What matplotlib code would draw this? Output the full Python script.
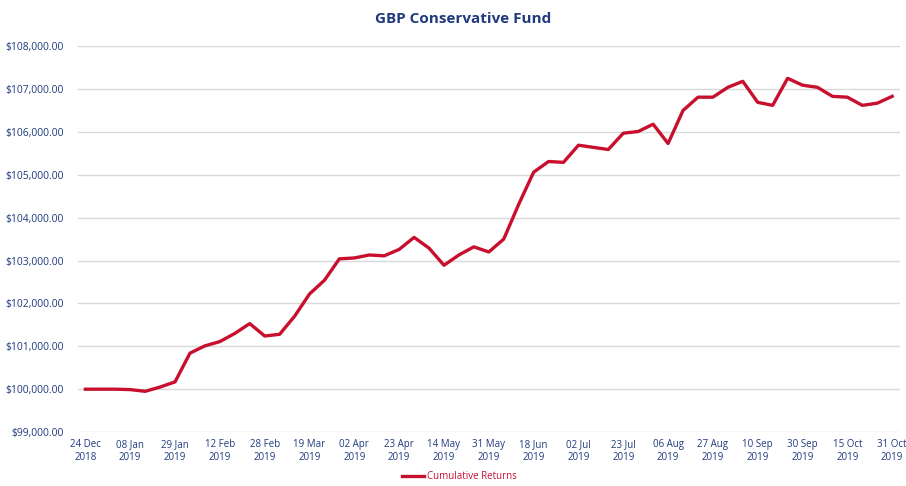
import matplotlib.pyplot as plt
import numpy as np

plt.rcParams['font.family'] = ['Open Sans', 'DejaVu Sans']

# fund value, one point per period
values = [100000, 100000, 100000, 99990, 99950, 100050, 100170, 100840, 101010, 101110,
          101300, 101530, 101240, 101280, 101700, 102220, 102540, 103040, 103060, 103130,
          103110, 103260, 103540, 103290, 102890, 103130, 103320, 103200, 103500, 104310,
          105060, 105310, 105290, 105690, 105640, 105590, 105970, 106010, 106180, 105730,
          106500, 106810, 106810, 107040, 107180, 106690, 106620, 107250, 107090, 107040,
          106830, 106810, 106620, 106670, 106830]

# labels shown on every third point
tick_labels = ['24 Dec\n2018', '08 Jan\n2019', '29 Jan\n2019', '12 Feb\n2019', '28 Feb\n2019',
               '19 Mar\n2019', '02 Apr\n2019', '23 Apr\n2019', '14 May\n2019', '31 May\n2019',
               '18 Jun\n2019', '02 Jul\n2019', '23 Jul\n2019', '06 Aug\n2019', '27 Aug\n2019',
               '10 Sep\n2019', '30 Sep\n2019', '15 Oct\n2019', '31 Oct\n2019']

navy = '#1F3A7E'
red = '#C8102E'

fig = plt.figure(figsize=(9.06, 4.86), dpi=100)
ax = fig.add_axes([0.086, 0.111, 0.907, 0.794])

x = np.arange(len(values))
ax.plot(x, values, color=red, linewidth=2.4, label='Cumulative Returns', solid_joinstyle='round')

ax.set_xlim(-0.5, len(values) - 0.5)
ax.set_ylim(99000, 108000)
ax.set_yticks(np.arange(99000, 108001, 1000))
ax.set_yticklabels(['${:,.2f}'.format(v) for v in np.arange(99000, 108001, 1000)])
ax.set_xticks(x[::3])
ax.set_xticklabels(tick_labels)

ax.grid(axis='y', color='#D9D9D9', linewidth=1)
ax.set_axisbelow(True)
for s in ax.spines.values():
    s.set_visible(False)
ax.tick_params(length=0, labelsize=7, labelcolor=navy)
ax.tick_params(axis='y', labelsize=7.5, pad=10)
ax.tick_params(axis='x', pad=5)

fig.suptitle('GBP Conservative Fund', x=0.511, y=0.975, fontsize=11, fontweight='bold', color=navy)

leg = fig.legend(loc='lower center', bbox_to_anchor=(0.507, -0.01), frameon=False,
                 fontsize=7, handlelength=2.2, handletextpad=0.3)
for t in leg.get_texts():
    t.set_color(red)

fig.savefig('out.png', dpi=100)
